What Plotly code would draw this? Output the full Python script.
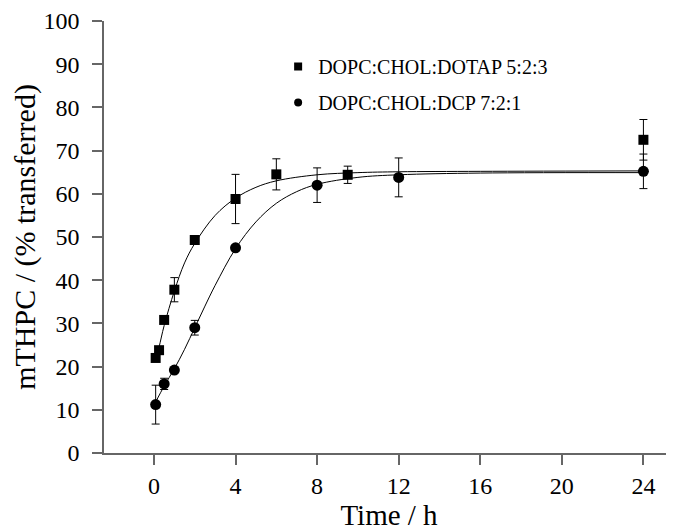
import plotly.graph_objects as go

# Measured data (DOPC:CHOL:DOTAP 5:2:3)
sq_x = [0.083, 0.25, 0.5, 1, 2, 4, 6, 9.5, 24]
sq_y = [22.0, 23.8, 30.8, 37.8, 49.3, 58.8, 64.5, 64.4, 72.5]
sq_err = [0, 0, 0, 2.8, 0, 5.7, 3.6, 2.0, 4.7]

# Measured data (DOPC:CHOL:DCP 7:2:1)
ci_x = [0.083, 0.5, 1, 2, 4, 8, 12, 24]
ci_y = [11.2, 16.0, 19.2, 29.0, 47.5, 62.0, 63.8, 65.2]
ci_err = [4.5, 1.3, 0, 1.7, 0, 4.0, 4.5, 4.0]

# Fitted curves
sq_fit_x = [0.083, 0.25, 0.5, 1, 1.5, 2, 3, 4, 5, 6, 8, 10, 12, 16, 24]
sq_fit_y = [21.5, 24.5, 29.5, 37.5, 44.0, 48.5, 55.0, 59.0, 61.5, 63.0, 64.4, 64.9, 65.1, 65.2, 65.3]
ci_fit_x = [0.083, 0.5, 1, 1.5, 2, 2.5, 3, 4, 5, 6, 7, 8, 10, 12, 16, 24]
ci_fit_y = [11.8, 15.5, 19.5, 24.0, 29.0, 34.0, 38.8, 47.3, 53.5, 57.8, 60.5, 62.2, 63.8, 64.4, 64.8, 64.9]

labels = ["DOPC:CHOL:DOTAP 5:2:3", "DOPC:CHOL:DCP 7:2:1"]
x_ticks = [0, 4, 8, 12, 16, 20, 24]
y_ticks = list(range(0, 101, 10))

FONT = "Liberation Serif, DejaVu Serif, serif"

fig = go.Figure()
fig.add_trace(go.Scatter(x=sq_fit_x, y=sq_fit_y, mode="lines", line=dict(color="black", width=1, shape="spline"),
                         showlegend=False, hoverinfo="skip"))
fig.add_trace(go.Scatter(x=ci_fit_x, y=ci_fit_y, mode="lines", line=dict(color="black", width=1, shape="spline"),
                         showlegend=False, hoverinfo="skip"))
fig.add_trace(go.Scatter(x=sq_x, y=sq_y, mode="markers", marker=dict(symbol="square", size=10, color="black"),
                         error_y=dict(type="data", array=sq_err, color="black", thickness=1, width=4),
                         showlegend=False))
fig.add_trace(go.Scatter(x=ci_x, y=ci_y, mode="markers", marker=dict(symbol="circle", size=11, color="black"),
                         error_y=dict(type="data", array=ci_err, color="black", thickness=1, width=4),
                         showlegend=False))
# legend entries
fig.add_trace(go.Scatter(x=[None], y=[None], mode="markers", name=labels[0], legendgroup="a",
                         marker=dict(symbol="square", size=8, color="black")))
fig.add_trace(go.Scatter(x=[None], y=[None], mode="markers", name=labels[1], legendgroup="b",
                         marker=dict(symbol="circle", size=8, color="black")))

axis_common = dict(showline=True, linecolor="#666", linewidth=1.5, ticks="outside", ticklen=10,
                   tickcolor="#666", tickwidth=1.5, showgrid=False, zeroline=False, automargin=False,
                   tickfont=dict(family=FONT, size=24, color="black"))

fig.update_xaxes(range=[-2.45, 25.5], tickvals=x_ticks, ticklabelstandoff=0,
                 title=dict(text="Time / h", font=dict(family=FONT, size=29, color="black"), standoff=12),
                 **axis_common)
fig.update_yaxes(range=[0, 100], tickvals=y_ticks, ticklabelstandoff=8,
                 title=dict(text="mTHPC / (% transferred)", font=dict(family=FONT, size=30, color="black"), standoff=18),
                 **axis_common)

# page body has an 8px margin, so the figure is sized/offset to fit the window
fig.update_layout(
    width=666, height=523,
    margin=dict(l=96, r=0, t=13, b=78),
    paper_bgcolor="white", plot_bgcolor="white",
    font=dict(family=FONT, color="black"),
    legend=dict(x=0.3055, y=0.94, xanchor="left", yanchor="top", bgcolor="rgba(0,0,0,0)",
                font=dict(family=FONT, size=20, color="black"), traceorder="grouped",
                tracegroupgap=7, itemwidth=30),
)

fig.write_html("out.html")
